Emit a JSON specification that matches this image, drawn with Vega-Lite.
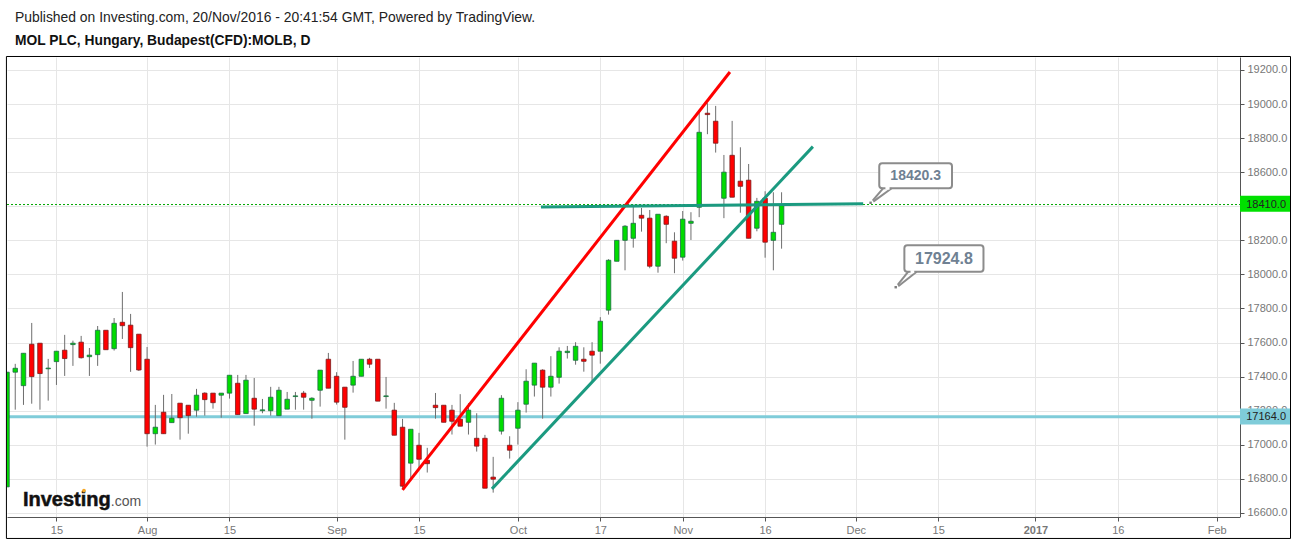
{
  "$schema": "https://vega.github.io/schema/vega-lite/v6.json",
  "description": "MOL PLC daily candles with hand drawn trend lines",
  "width": 1233,
  "height": 460,
  "autosize": "none",
  "padding": {"left": 7, "top": 57, "right": 57, "bottom": 24},
  "background": "white",
  "title": {
    "text": "Published on Investing.com, 20/Nov/2016 - 20:41:54 GMT, Powered by TradingView.",
    "subtitle": "MOL PLC, Hungary, Budapest(CFD):MOLB, D",
    "anchor": "start",
    "frame": "group",
    "dx": 8,
    "offset": 8,
    "font": "Liberation Sans",
    "fontSize": 13.9,
    "fontWeight": "normal",
    "color": "#222222",
    "subtitleFont": "Liberation Sans",
    "subtitleFontSize": 13.8,
    "subtitleFontWeight": "bold",
    "subtitleColor": "#111111",
    "subtitlePadding": 9
  },
  "config": {"view": {"stroke": null}, "font": "Liberation Sans"},
  "datasets": {
    "candles": [
      {"bar":0,"open":16753,"high":17426,"low":16753,"close":17426},
      {"bar":1,"open":17426,"high":17475,"low":17206,"close":17449},
      {"bar":2,"open":17347,"high":17537,"low":17234,"close":17537},
      {"bar":3,"open":17590,"high":17715,"low":17241,"close":17400},
      {"bar":4,"open":17596,"high":17596,"low":17206,"close":17418},
      {"bar":5,"open":17446,"high":17504,"low":17259,"close":17450},
      {"bar":6,"open":17488,"high":17549,"low":17351,"close":17549},
      {"bar":7,"open":17555,"high":17645,"low":17404,"close":17506},
      {"bar":8,"open":17588,"high":17611,"low":17463,"close":17596},
      {"bar":9,"open":17602,"high":17639,"low":17506,"close":17511},
      {"bar":10,"open":17517,"high":17568,"low":17404,"close":17526},
      {"bar":11,"open":17529,"high":17697,"low":17463,"close":17672},
      {"bar":12,"open":17672,"high":17672,"low":17558,"close":17558},
      {"bar":13,"open":17564,"high":17744,"low":17553,"close":17713},
      {"bar":14,"open":17719,"high":17897,"low":17621,"close":17699},
      {"bar":15,"open":17702,"high":17768,"low":17428,"close":17570},
      {"bar":16,"open":17649,"high":17649,"low":17433,"close":17439},
      {"bar":17,"open":17502,"high":17574,"low":16989,"close":17065},
      {"bar":18,"open":17065,"high":17234,"low":17001,"close":17103},
      {"bar":19,"open":17191,"high":17293,"low":17065,"close":17065},
      {"bar":20,"open":17130,"high":17298,"low":17130,"close":17156},
      {"bar":21,"open":17244,"high":17244,"low":17030,"close":17159},
      {"bar":22,"open":17232,"high":17232,"low":17065,"close":17171},
      {"bar":23,"open":17203,"high":17328,"low":17165,"close":17291},
      {"bar":24,"open":17303,"high":17308,"low":17171,"close":17265},
      {"bar":25,"open":17303,"high":17303,"low":17212,"close":17247},
      {"bar":26,"open":17291,"high":17303,"low":17159,"close":17303},
      {"bar":27,"open":17303,"high":17408,"low":17271,"close":17408},
      {"bar":28,"open":17361,"high":17410,"low":17177,"close":17177},
      {"bar":29,"open":17183,"high":17410,"low":17183,"close":17379},
      {"bar":30,"open":17273,"high":17392,"low":17112,"close":17209},
      {"bar":31,"open":17200,"high":17269,"low":17185,"close":17205},
      {"bar":32,"open":17200,"high":17340,"low":17171,"close":17279},
      {"bar":33,"open":17171,"high":17340,"low":17171,"close":17320},
      {"bar":34,"open":17209,"high":17310,"low":17209,"close":17267},
      {"bar":35,"open":17283,"high":17310,"low":17206,"close":17287},
      {"bar":36,"open":17303,"high":17316,"low":17206,"close":17279},
      {"bar":37,"open":17261,"high":17279,"low":17153,"close":17273},
      {"bar":38,"open":17320,"high":17438,"low":17224,"close":17438},
      {"bar":39,"open":17502,"high":17539,"low":17332,"close":17332},
      {"bar":40,"open":17402,"high":17426,"low":17236,"close":17250},
      {"bar":41,"open":17338,"high":17338,"low":17030,"close":17220},
      {"bar":42,"open":17350,"high":17492,"low":17306,"close":17402},
      {"bar":43,"open":17402,"high":17502,"low":17402,"close":17502},
      {"bar":44,"open":17502,"high":17510,"low":17451,"close":17473},
      {"bar":45,"open":17502,"high":17502,"low":17256,"close":17256},
      {"bar":46,"open":17283,"high":17398,"low":17212,"close":17287},
      {"bar":47,"open":17203,"high":17246,"low":17056,"close":17056},
      {"bar":48,"open":17103,"high":17152,"low":16747,"close":16757},
      {"bar":49,"open":16892,"high":17091,"low":16798,"close":17091},
      {"bar":50,"open":16997,"high":17070,"low":16852,"close":16915},
      {"bar":51,"open":16909,"high":16982,"low":16837,"close":16889},
      {"bar":52,"open":17232,"high":17304,"low":17153,"close":17218},
      {"bar":53,"open":17232,"high":17232,"low":17132,"close":17132},
      {"bar":54,"open":17203,"high":17234,"low":17060,"close":17138},
      {"bar":55,"open":17150,"high":17297,"low":17109,"close":17109},
      {"bar":56,"open":17132,"high":17244,"low":17060,"close":17203},
      {"bar":57,"open":17038,"high":17185,"low":16960,"close":16992},
      {"bar":58,"open":17038,"high":17058,"low":16745,"close":16745},
      {"bar":59,"open":16810,"high":16929,"low":16719,"close":16798},
      {"bar":60,"open":17080,"high":17291,"low":17060,"close":17273},
      {"bar":61,"open":16997,"high":17050,"low":16919,"close":16968},
      {"bar":62,"open":17097,"high":17250,"low":17001,"close":17203},
      {"bar":63,"open":17238,"high":17443,"low":17189,"close":17373},
      {"bar":64,"open":17350,"high":17479,"low":17283,"close":17479},
      {"bar":65,"open":17438,"high":17443,"low":17153,"close":17338},
      {"bar":66,"open":17338,"high":17520,"low":17283,"close":17402},
      {"bar":67,"open":17396,"high":17572,"low":17359,"close":17549},
      {"bar":68,"open":17541,"high":17580,"low":17506,"close":17549},
      {"bar":69,"open":17496,"high":17602,"low":17470,"close":17578},
      {"bar":70,"open":17502,"high":17572,"low":17429,"close":17490},
      {"bar":71,"open":17549,"high":17602,"low":17371,"close":17526},
      {"bar":72,"open":17549,"high":17749,"low":17476,"close":17725},
      {"bar":73,"open":17790,"high":18089,"low":17764,"close":18083},
      {"bar":74,"open":18077,"high":18200,"low":18077,"close":18200},
      {"bar":75,"open":18200,"high":18289,"low":18024,"close":18283},
      {"bar":76,"open":18212,"high":18402,"low":18157,"close":18300},
      {"bar":77,"open":18347,"high":18390,"low":18251,"close":18330},
      {"bar":78,"open":18330,"high":18378,"low":18036,"close":18048},
      {"bar":79,"open":18048,"high":18353,"low":18010,"close":18353},
      {"bar":80,"open":18341,"high":18347,"low":18183,"close":18294},
      {"bar":81,"open":18195,"high":18247,"low":18007,"close":18095},
      {"bar":82,"open":18101,"high":18372,"low":18081,"close":18324},
      {"bar":83,"open":18300,"high":18365,"low":18202,"close":18312},
      {"bar":84,"open":18394,"high":18955,"low":18336,"close":18834},
      {"bar":85,"open":18946,"high":19005,"low":18823,"close":18938},
      {"bar":86,"open":18899,"high":18989,"low":18715,"close":18770},
      {"bar":87,"open":18447,"high":18701,"low":18330,"close":18600},
      {"bar":88,"open":18699,"high":18901,"low":18453,"close":18453},
      {"bar":89,"open":18547,"high":18746,"low":18362,"close":18517},
      {"bar":90,"open":18553,"high":18648,"low":18212,"close":18212},
      {"bar":91,"open":18271,"high":18449,"low":18253,"close":18429},
      {"bar":92,"open":18447,"high":18488,"low":18098,"close":18189},
      {"bar":93,"open":18200,"high":18482,"low":18024,"close":18247},
      {"bar":94,"open":18294,"high":18482,"low":18151,"close":18410}
    ],
    "drawings": [
      {"name":"up red","bar":48,"price":16735,"bar2":87.73,"price2":19188},
      {"name":"up green","bar":58.85,"price":16741,"bar2":97.8,"price2":18750},
      {"name":"flat green","bar":64.8,"price":18396,"bar2":103.9,"price2":18414}
    ],
    "boxes": [
      {"bar":105.85,"bar2":114.68,"price":18652,"price2":18506},
      {"bar":108.9,"bar2":118.5,"price":18171,"price2":18016}
    ],
    "tails": [
      {"bar":105.05,"price":18433,"bar2":106.34,"price2":18506},
      {"bar":105.13,"price":18427,"bar2":107.36,"price2":18506},
      {"bar":108.09,"price":17938,"bar2":109.37,"price2":18016},
      {"bar":108.16,"price":17930,"bar2":110.39,"price2":18016}
    ],
    "anchors": [
      {"bar":104.8,"price":18420.3},
      {"bar":107.85,"price":17924.8}
    ]
  },
  "encoding": {
    "x": {
      "field": "bar",
      "type": "quantitative",
      "scale": {"domain": [0, 149.63], "nice": false, "zero": false, "padding": 0},
      "axis": {
        "title": null,
        "values": [6, 17, 27, 40, 50, 62, 72, 82, 92, 103, 113, 124.8, 134.8, 146.8],
        "labelExpr": "{'6':'15','17':'Aug','27':'15','40':'Sep','50':'15','62':'Oct','72':'17','82':'Nov','92':'16','103':'Dec','113':'15','124.8':'2017','134.8':'16','146.8':'Feb'}[datum.value]",
        "grid": true,
        "gridColor": "#e6e6e6",
        "gridWidth": 1,
        "domainColor": "#555555",
        "tickColor": "#555555",
        "tickSize": 4,
        "labelColor": "#777777",
        "labelFont": "Liberation Sans",
        "labelFontSize": 11,
        "labelFontWeight": {"condition": {"test": "datum.value == 124.8", "value": "bold"}, "value": "normal"},
        "labelPadding": 3,
        "labelOverlap": false,
        "labelFlush": false
      }
    },
    "y": {
      "field": "price",
      "type": "quantitative",
      "scale": {"domain": [16576, 19276], "nice": false, "zero": false, "padding": 0},
      "axis": {
        "orient": "right",
        "title": null,
        "values": [16600, 16800, 17000, 17200, 17400, 17600, 17800, 18000, 18200, 18400, 18600, 18800, 19000, 19200],
        "format": ".1f",
        "grid": true,
        "gridColor": "#e6e6e6",
        "gridWidth": 1,
        "domainColor": "#555555",
        "tickColor": "#555555",
        "tickSize": 4,
        "labelColor": "#777777",
        "labelFont": "Liberation Sans",
        "labelFontSize": 11,
        "labelPadding": 3,
        "labelOverlap": false,
        "labelFlush": false
      }
    }
  },
  "layer": [
    {
      "data": {"values": [{"bar": 0, "bar2": 149.63, "price": 17164}]},
      "mark": {"type": "rule", "color": "#7fccd9", "strokeWidth": 3},
      "encoding": {"x2": {"field": "bar2"}}
    },
    {
      "data": {"values": [{"bar": 0, "bar2": 149.63, "price": 18410}]},
      "mark": {"type": "rule", "color": "#00a800", "strokeWidth": 1, "strokeDash": [2, 2]},
      "encoding": {"x2": {"field": "bar2"}}
    },
    {
      "data": {"name": "candles"},
      "mark": {"type": "rule", "color": "#6e6e6e", "strokeWidth": 1, "clip": true},
      "encoding": {
        "y": {"field": "low", "type": "quantitative"},
        "y2": {"field": "high"}
      }
    },
    {
      "data": {"name": "candles"},
      "mark": {"type": "bar", "size": 4.5, "strokeWidth": 0.8, "clip": true},
      "encoding": {
        "y": {"field": "open", "type": "quantitative"},
        "y2": {"field": "close"},
        "fill": {"condition": {"test": "datum.open < datum.close", "value": "#00dc00"}, "value": "#ff0000"},
        "stroke": {"condition": {"test": "datum.open < datum.close", "value": "#1d6b45"}, "value": "#7a1c1c"}
      }
    },
    {
      "data": {"name": "drawings"},
      "mark": {"type": "rule", "strokeWidth": 3},
      "encoding": {
        "x2": {"field": "bar2"},
        "y2": {"field": "price2"},
        "color": {
          "field": "name",
          "type": "nominal",
          "scale": {"domain": ["up red", "up green", "flat green"], "range": ["#ff0000", "#1b9a80", "#1b9a80"]},
          "legend": null
        }
      }
    },
    {
      "data": {"name": "boxes"},
      "mark": {"type": "rect", "fill": "white", "stroke": "#8c8c8c", "strokeWidth": 2, "cornerRadius": 3},
      "encoding": {"x2": {"field": "bar2"}, "y2": {"field": "price2"}}
    },
    {
      "data": {"name": "tails"},
      "mark": {"type": "rule", "color": "#8c8c8c", "strokeWidth": 2},
      "encoding": {"x2": {"field": "bar2"}, "y2": {"field": "price2"}}
    },
    {
      "data": {"values": [
        {"bar": 106.6, "bar2": 107.1, "price": 18506},
        {"bar": 109.65, "bar2": 110.1, "price": 18016}
      ]},
      "mark": {"type": "rule", "color": "white", "strokeWidth": 3},
      "encoding": {"x2": {"field": "bar2"}}
    },
    {
      "data": {"name": "anchors"},
      "mark": {"type": "point", "shape": "square", "filled": true, "color": "#7f7f7f", "size": 6, "opacity": 1}
    },
    {
      "data": {"values": [{"bar": 110.27, "price": 18579, "label": "18420.3"}]},
      "mark": {"type": "text", "font": "Liberation Sans", "fontWeight": "bold", "fontSize": 14, "color": "#6f8193"},
      "encoding": {"text": {"field": "label"}}
    },
    {
      "data": {"values": [{"bar": 113.7, "price": 18093, "label": "17924.8"}]},
      "mark": {"type": "text", "font": "Liberation Sans", "fontWeight": "bold", "fontSize": 16, "color": "#6f8193"},
      "encoding": {"text": {"field": "label"}}
    },
    {
      "data": {"values": [{"bar": 149.7, "bar2": 155.7, "price": 16576, "price2": 16530}]},
      "mark": {"type": "rect", "fill": "white"},
      "encoding": {"x2": {"field": "bar2"}, "y2": {"field": "price2"}}
    },
    {
      "data": {"values": [{"bar": 149.63, "bar2": 155.76, "price": 18462, "price2": 18368}]},
      "mark": {"type": "rect", "fill": "#00e000"},
      "encoding": {"x2": {"field": "bar2"}, "y2": {"field": "price2"}}
    },
    {
      "data": {"values": [{"bar": 149.63, "bar2": 155.76, "price": 17213, "price2": 17119}]},
      "mark": {"type": "rect", "fill": "#7fccd9"},
      "encoding": {"x2": {"field": "bar2"}, "y2": {"field": "price2"}}
    },
    {
      "data": {"values": [
        {"bar": 152.8, "price": 18410, "label": "18410.0"},
        {"bar": 152.8, "price": 17164, "label": "17164.0"}
      ]},
      "mark": {"type": "text", "font": "Liberation Sans", "fontSize": 11, "color": "#222222"},
      "encoding": {"text": {"field": "label"}}
    },
    {
      "data": {"values": [{"bar": 1.93, "price": 16641, "label": "Investing"}]},
      "mark": {"type": "text", "align": "left", "baseline": "alphabetic", "font": "Liberation Sans", "fontWeight": "bold", "fontSize": 20, "color": "#111111", "stroke": "#111111", "strokeWidth": 0.5},
      "encoding": {"text": {"field": "label"}}
    },
    {
      "data": {"values": [{"bar": 12.6, "price": 16641, "label": ".com"}]},
      "mark": {"type": "text", "align": "left", "baseline": "alphabetic", "font": "Liberation Sans", "fontSize": 14, "color": "#555555"},
      "encoding": {"text": {"field": "label"}}
    },
    {
      "data": {"values": [{"bar": 9.34, "price": 16731}]},
      "mark": {"type": "point", "shape": "circle", "filled": true, "color": "#f5a623", "size": 14, "opacity": 1}
    },
    {
      "data": {"values": [{"bar": -0.07, "bar2": 155.76, "price": 19279, "price2": 16450}]},
      "mark": {"type": "rect", "fill": null, "stroke": "#000000", "strokeWidth": 1},
      "encoding": {"x2": {"field": "bar2"}, "y2": {"field": "price2"}}
    }
  ]
}
